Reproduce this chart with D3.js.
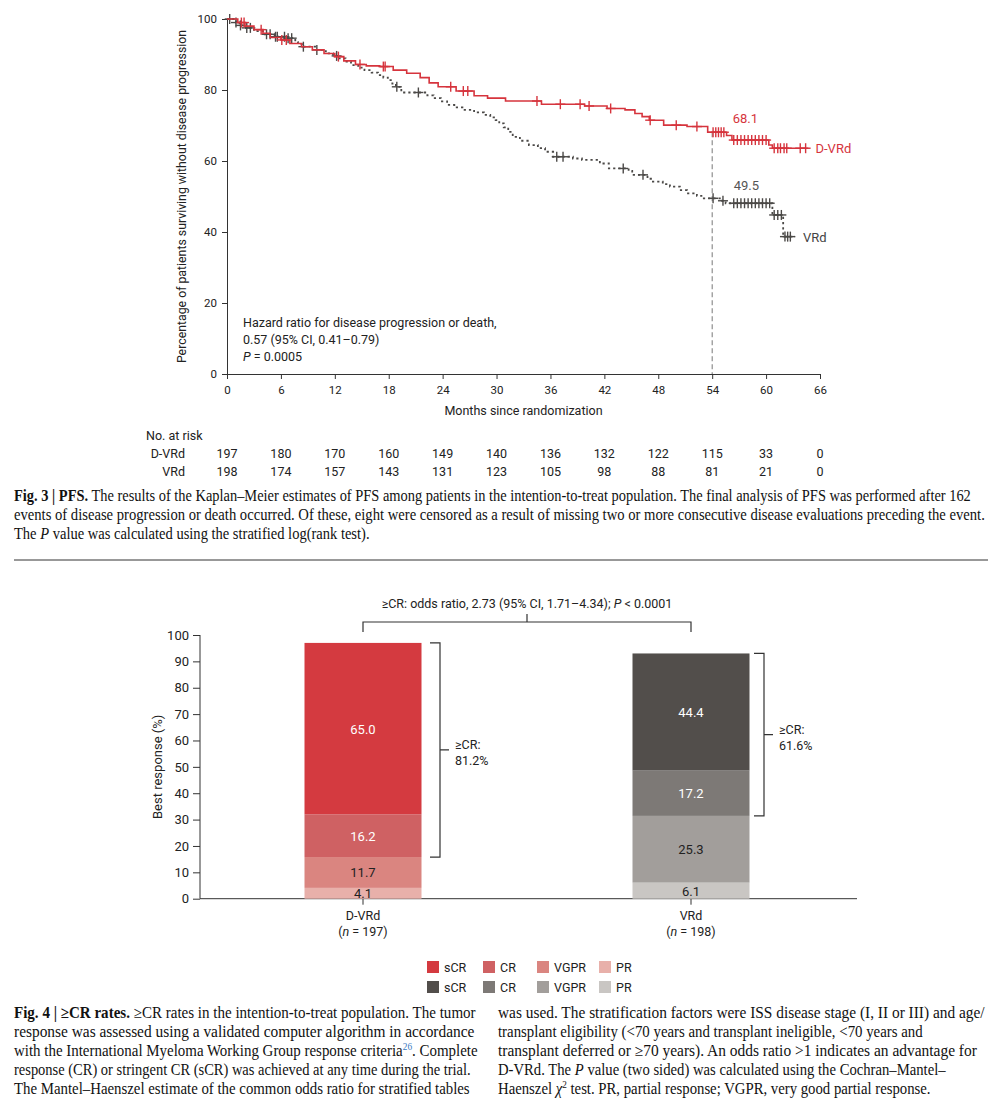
<!DOCTYPE html>
<html><head><meta charset="utf-8">
<script src="https://cdn.jsdelivr.net/npm/d3@7"></script>
<style>
body{margin:0;background:#fff}
svg{display:block}
text{font-family:Roboto,"Noto Sans",sans-serif}
.cap{font-family:"Liberation Serif",serif;font-size:16px}
</style>
</head><body>
<svg id="c" width="1006" height="1108" fill="#222"></svg>
<script>
// ---------- Fig 3 data (Kaplan–Meier PFS) ----------
const monthTicks = [0,6,12,18,24,30,36,42,48,54,60,66];
const survTicks = [0,20,40,60,80,100];
const dvrdTimes = [0,1.2,2.0,3.0,4.0,4.8,6.0,7.0,8.3,9.5,10.8,12.0,13.0,14.3,15.5,17.0,18.5,20.0,21.5,22.5,23.5,25.5,27.5,29.0,31.0,35.0,39.8,42.3,44.3,45.4,46.2,47.0,48.6,51.2,53.5,55.6,56.2,60.3,60.7];
const dvrdSurv  = [100,99.0,98.0,97.0,96.0,94.8,94.1,93.1,92.2,91.3,90.3,89.4,88.2,87.2,86.8,86.6,85.6,84.7,83.5,82.0,80.9,79.7,78.4,77.7,76.9,76.0,75.5,74.8,74.4,73.4,72.5,71.5,70.1,69.7,68.1,67.2,65.9,64.5,63.6];
const dvrdCensor = [1.6,1.9,3.8,6.1,6.6,12.4,14.8,17.4,17.6,24.9,26.3,26.8,34.5,37.1,39.3,40.3,42.7,47.1,50.0,52.3,54.1,54.4,54.7,55.0,55.3,56.4,56.8,57.2,57.6,58.0,58.4,58.8,59.2,59.6,60.0,60.9,61.3,61.6,62.0,62.3,63.8,64.4];
const dvrdEnd = 64.7;
const vrdTimes = [0,1.0,1.4,2.1,3.0,4.2,5.3,6.5,7.6,7.9,8.5,9.8,11.0,11.8,12.3,13.2,13.8,14.6,15.3,16.1,16.8,17.4,17.9,18.4,18.8,19.4,22.3,23.0,23.8,24.5,25.3,26.2,27.5,28.6,29.3,29.9,30.3,30.8,31.3,31.8,32.6,33.6,34.6,35.4,36.3,38.5,39.5,41.5,42.5,44.7,45.1,46.8,47.4,48.5,49.3,50.4,51.2,52.3,52.8,55.0,55.5,60.7,61.9];
const vrdSurv  = [100,99.0,98.2,97.5,96.6,95.7,95.0,94.6,93.5,92.9,92.2,91.3,90.3,89.6,88.9,88.0,87.0,86.3,85.6,84.9,84.2,83.5,82.8,81.8,80.9,79.3,78.5,77.7,76.8,75.8,75.1,74.4,73.7,73.0,72.3,71.5,70.6,69.5,68.2,66.8,65.7,64.5,63.6,62.6,61.2,60.7,60.3,59.3,57.9,57.2,56.1,55.0,54.2,53.5,52.8,51.8,50.9,50.2,49.5,48.8,48.1,44.8,38.7];
const vrdCensor = [0.3,1.0,1.5,2.2,2.6,4.4,4.8,5.4,5.6,6.4,6.8,7.2,8.5,10.0,12.2,18.9,21.3,36.7,37.4,44.1,46.3,54.1,55.2,56.4,56.8,57.2,57.6,58.0,58.4,58.8,59.2,59.6,60.0,60.4,60.9,61.3,61.7,62.1,62.4,62.7];
const vrdEnd = 63.2;
const riskArms = ["D-VRd","VRd"];
const riskDVRd = [197,180,170,160,149,140,136,132,122,115,33,0];
const riskVRd  = [198,174,157,143,131,123,105,98,88,81,21,0];
const landmarkMonth = 54;
const landmarkDVRd = 68.1;
const landmarkVRd = 49.5;

// ---------- Fig 4 data (best response) ----------
const arms = ["D-VRd","VRd"];
const armN = [197,198];
const responses = ["sCR","CR","VGPR","PR"];
const dvrdResp = [65.0,16.2,11.7,4.1];
const vrdResp  = [44.4,17.2,25.3,6.1];
const crRates  = [81.2,61.6];
const respTicks = [0,10,20,30,40,50,60,70,80,90,100];

const RED = "#d6343d", GREY = "#4b4947";
const redShades  = ["#d43a40","#cf6163","#da8580","#e8b0aa"];
const greyShades = ["#524e4b","#7d7976","#a29e9b","#c9c6c3"];

const svg = d3.select("#c");

// ================= Fig 3 =================
const x = d3.scaleLinear().domain([0,66]).range([227,820]);
const y = d3.scaleLinear().domain([0,100]).range([374,19]);

const gy = svg.append("g").attr("transform","translate(227,0)")
  .call(d3.axisLeft(y).tickValues(survTicks).tickSize(5).tickSizeOuter(0).tickPadding(5));
const gx = svg.append("g").attr("transform","translate(0,374)")
  .call(d3.axisBottom(x).tickValues(monthTicks).tickSize(5).tickSizeOuter(0).tickPadding(7));
[gy,gx].forEach(g=>{
  g.selectAll("path,line").attr("stroke","#333").attr("stroke-width",1);
  g.selectAll("text").attr("font-size",11.5).attr("fill","#222").attr("font-family","Roboto");
});

svg.append("text").attr("transform",`translate(186,${(y(0)+y(100))/2}) rotate(-90)`)
  .attr("text-anchor","middle").attr("font-size",12.3).text("Percentage of patients surviving without disease progression");
svg.append("text").attr("x",(x(0)+x(66))/2).attr("y",415).attr("text-anchor","middle")
  .attr("font-size",12.5).text("Months since randomization");

// landmark line
svg.append("line").attr("x1",x(landmarkMonth)).attr("x2",x(landmarkMonth))
  .attr("y1",y(landmarkDVRd)).attr("y2",y(0))
  .attr("stroke","#777").attr("stroke-width",1).attr("stroke-dasharray","5,3");

function stepVal(times, surv, t){
  let v = surv[0];
  for(let i=0;i<times.length;i++){ if(times[i] <= t) v = surv[i]; }
  return v;
}
function drawKM(times, surv, censor, end, color, dashed){
  const pts = times.map((t,i)=>[t,surv[i]]);
  pts.push([end, surv[surv.length-1]]);
  const line = d3.line().x(d=>x(d[0])).y(d=>y(d[1])).curve(d3.curveStepAfter);
  svg.append("path").attr("d",line(pts)).attr("fill","none")
    .attr("stroke",color).attr("stroke-width",dashed?1.8:1.6)
    .attr("stroke-dasharray",dashed?"2.2,3":null);
  const g = svg.append("g").attr("stroke",color).attr("stroke-width",1.4);
  censor.forEach(t=>{
    const cx = x(t), cy = y(stepVal(times,surv,t));
    g.append("line").attr("x1",cx).attr("x2",cx).attr("y1",cy-5).attr("y2",cy+5);
    g.append("line").attr("x1",cx-5).attr("x2",cx+5).attr("y1",cy).attr("y2",cy);
  });
}
drawKM(vrdTimes, vrdSurv, vrdCensor, vrdEnd, GREY, true);
drawKM(dvrdTimes, dvrdSurv, dvrdCensor, dvrdEnd, RED, false);

svg.append("text").attr("x",x(57.7)).attr("y",y(landmarkDVRd)-9).attr("text-anchor","middle")
  .attr("font-size",13).attr("fill",RED).text(landmarkDVRd.toFixed(1));
svg.append("text").attr("x",x(57.8)).attr("y",y(landmarkVRd)-8).attr("text-anchor","middle")
  .attr("font-size",13).attr("fill","#555").text(landmarkVRd.toFixed(1));
svg.append("text").attr("x",x(65.5)).attr("y",y(63.6)+5).attr("font-size",13).attr("fill",RED).text("D-VRd");
svg.append("text").attr("x",x(64.1)).attr("y",y(38.7)+5).attr("font-size",13).attr("fill","#444").text("VRd");

const hz = svg.append("g").attr("font-size",12.5);
hz.append("text").attr("x",243).attr("y",327).text("Hazard ratio for disease progression or death,");
hz.append("text").attr("x",243).attr("y",344).text("0.57 (95% CI, 0.41–0.79)");
const pt = hz.append("text").attr("x",243).attr("y",361);
pt.append("tspan").attr("font-style","italic").text("P");
pt.append("tspan").text(" = 0.0005");

// risk table
svg.append("text").attr("x",146).attr("y",440).attr("font-size",12.5).text("No. at risk");
[riskDVRd, riskVRd].forEach((row,i)=>{
  const yy = 458 + i*18;
  svg.append("text").attr("x",185).attr("y",yy).attr("text-anchor","end").attr("font-size",12.5).text(riskArms[i]);
  row.forEach((n,j)=>{
    svg.append("text").attr("x",x(monthTicks[j])).attr("y",yy).attr("text-anchor","middle")
      .attr("font-size",12.5).text(n);
  });
});

// captions: each paragraph gets one horizontal condensing factor from its full lines
function caption(xx, y0, lines){
  const made = lines.map((ln,i)=>{
    const t = svg.append("text").attr("class","cap").attr("fill","#111");
    ln.parts.forEach(p=>{
      const s = t.append("tspan").text(p.t);
      if(p.b) s.attr("font-weight","bold");
      if(p.i) s.attr("font-style","italic");
      if(p.sup) s.attr("font-size",10).attr("dy",-6).attr("fill","#3a7abf");
      if(p.sup2) s.attr("font-size",10).attr("dy",-6);
      if(p.after) s.attr("dy",6);
    });
    return {t, w: t.node().getComputedTextLength(), target: ln.w, yy: y0 + i*19};
  });
  const full = made.filter(m=>m.target);
  const k = d3.mean(full, m=>m.target/m.w);
  made.forEach(m=>{
    const sx = m.target ? m.target/m.w : k;
    m.t.attr("transform",`translate(${xx},${m.yy}) scale(${sx},1)`);
  });
}
caption(14,501,[
  {parts:[{t:"Fig. 3 | PFS.",b:1},{t:" The results of the Kaplan–Meier estimates of PFS among patients in the intention-to-treat population. The final analysis of PFS was performed after 162"}],w:958},
  {parts:[{t:"events of disease progression or death occurred. Of these, eight were censored as a result of missing two or more consecutive disease evaluations preceding the event."}],w:971},
  {parts:[{t:"The "},{t:"P",i:1},{t:" value was calculated using the stratified log(rank test)."}]}
]);

svg.append("line").attr("x1",14).attr("x2",988).attr("y1",560).attr("y2",560).attr("stroke","#333").attr("stroke-width",1);

// ================= Fig 4 =================
const bx = d3.scalePoint().domain(arms).range([199,855]).padding(0.5);
const by = d3.scaleLinear().domain([0,100]).range([898.7,635]);
const barW = 117;

const gby = svg.append("g").attr("transform","translate(200,0)")
  .call(d3.axisLeft(by).tickValues(respTicks).tickSize(7).tickSizeOuter(0).tickPadding(4));
gby.select(".domain").remove();
gby.append("line").attr("x1",0).attr("x2",0).attr("y1",by(100)).attr("y2",by(0)).attr("stroke","#333");
gby.selectAll("line").attr("stroke","#333");
gby.selectAll("text").attr("font-size",13).attr("fill","#222").attr("font-family","Roboto");
svg.append("line").attr("x1",200).attr("x2",857).attr("y1",by(0)).attr("y2",by(0)).attr("stroke","#333");
arms.forEach(a=>{
  svg.append("line").attr("x1",bx(a)).attr("x2",bx(a)).attr("y1",by(0)).attr("y2",by(0)+6).attr("stroke","#333");
});
svg.append("text").attr("transform",`translate(162,${(by(0)+by(100))/2}) rotate(-90)`)
  .attr("text-anchor","middle").attr("font-size",13).text("Best response (%)");

const stackKeys = responses.slice().reverse(); // PR bottom
const rows = arms.map((a,i)=>{
  const vals = i===0?dvrdResp:vrdResp;
  const r = {arm:a};
  responses.forEach((k,j)=>r[k]=vals[j]);
  return r;
});
const series = d3.stack().keys(stackKeys)(rows);
series.forEach(s=>{
  const ri = responses.indexOf(s.key);
  s.forEach((d,i)=>{
    const col = i===0?redShades[ri]:greyShades[ri];
    svg.append("rect").attr("x",bx(arms[i])-barW/2).attr("width",barW)
      .attr("y",by(d[1])).attr("height",by(d[0])-by(d[1])).attr("fill",col);
    svg.append("text").attr("x",bx(arms[i])).attr("y",(by(d[0])+by(d[1]))/2+5)
      .attr("text-anchor","middle").attr("font-size",13)
      .attr("fill",ri<2?"#fff":"#222").text((d[1]-d[0]).toFixed(1));
  });
});

// ≥CR brackets
const brX = [440,764];
arms.forEach((a,i)=>{
  const vals = i===0?dvrdResp:vrdResp;
  const top = by(vals[0]+vals[1]+vals[2]+vals[3]);
  const bot = by(vals[2]+vals[3]);
  const bxp = brX[i], mid=(top+bot)/2;
  const p = d3.path();
  p.moveTo(bxp-10,top); p.lineTo(bxp,top); p.lineTo(bxp,bot); p.lineTo(bxp-10,bot);
  p.moveTo(bxp,mid); p.lineTo(bxp+9,mid);
  svg.append("path").attr("d",p.toString()).attr("fill","none").attr("stroke","#333").attr("stroke-width",1.2);
  svg.append("text").attr("x",bxp+15).attr("y",mid-1).attr("font-size",12.5).text("≥CR:");
  svg.append("text").attr("x",bxp+15).attr("y",mid+15).attr("font-size",12.5).text(crRates[i].toFixed(1)+"%");
});

// top odds-ratio bracket
const tb = d3.path();
tb.moveTo(bx(arms[0]),632); tb.lineTo(bx(arms[0]),622); tb.lineTo(bx(arms[1]),622); tb.lineTo(bx(arms[1]),632);
tb.moveTo((bx(arms[0])+bx(arms[1]))/2,622); tb.lineTo((bx(arms[0])+bx(arms[1]))/2,614);
svg.append("path").attr("d",tb.toString()).attr("fill","none").attr("stroke","#333").attr("stroke-width",1.2);
const ot = svg.append("text").attr("x",(bx(arms[0])+bx(arms[1]))/2).attr("y",608).attr("text-anchor","middle").attr("font-size",12.5);
ot.append("tspan").text("≥CR: odds ratio, 2.73 (95% CI, 1.71–4.34); ");
ot.append("tspan").attr("font-style","italic").text("P");
ot.append("tspan").text(" < 0.0001");

// x labels
arms.forEach((a,i)=>{
  svg.append("text").attr("x",bx(a)).attr("y",920).attr("text-anchor","middle").attr("font-size",12.5).text(a);
  const t = svg.append("text").attr("x",bx(a)).attr("y",936).attr("text-anchor","middle").attr("font-size",12.5);
  t.append("tspan").text("(");
  t.append("tspan").attr("font-style","italic").text("n");
  t.append("tspan").text(" = "+armN[i]+")");
});

// legend
const legX = [427,483,537,599];
[redShades, greyShades].forEach((sh,r)=>{
  responses.forEach((k,j)=>{
    const yy = 961 + r*20;
    svg.append("rect").attr("x",legX[j]).attr("y",yy).attr("width",12).attr("height",12).attr("fill",sh[j]);
    svg.append("text").attr("x",legX[j]+17).attr("y",yy+11).attr("font-size",12.5).text(k);
  });
});

// Fig 4 caption
caption(14,1018,[
  {parts:[{t:"Fig. 4 | ≥CR rates.",b:1},{t:" ≥CR rates in the intention-to-treat population. The tumor"}],w:462},
  {parts:[{t:"response was assessed using a validated computer algorithm in accordance"}],w:461},
  {parts:[{t:"with the International Myeloma Working Group response criteria"},{t:"26",sup:1},{t:". Complete",after:1}],w:464},
  {parts:[{t:"response (CR) or stringent CR (sCR) was achieved at any time during the trial."}],w:457},
  {parts:[{t:"The Mantel–Haenszel estimate of the common odds ratio for stratified tables"}],w:456}
]);
caption(498,1018,[
  {parts:[{t:"was used. The stratification factors were ISS disease stage (I, II or III) and age/"}],w:487},
  {parts:[{t:"transplant eligibility (<70 years and transplant ineligible, <70 years and"}],w:425},
  {parts:[{t:"transplant deferred or ≥70 years). An odds ratio >1 indicates an advantage for"}],w:479},
  {parts:[{t:"D-VRd. The "},{t:"P",i:1},{t:" value (two sided) was calculated using the Cochran–Mantel–"}],w:448},
  {parts:[{t:"Haenszel "},{t:"χ",i:1},{t:"2",sup2:1},{t:" test. PR, partial response; VGPR, very good partial response.",after:1}],w:433}
]);
</script>
</body></html>
